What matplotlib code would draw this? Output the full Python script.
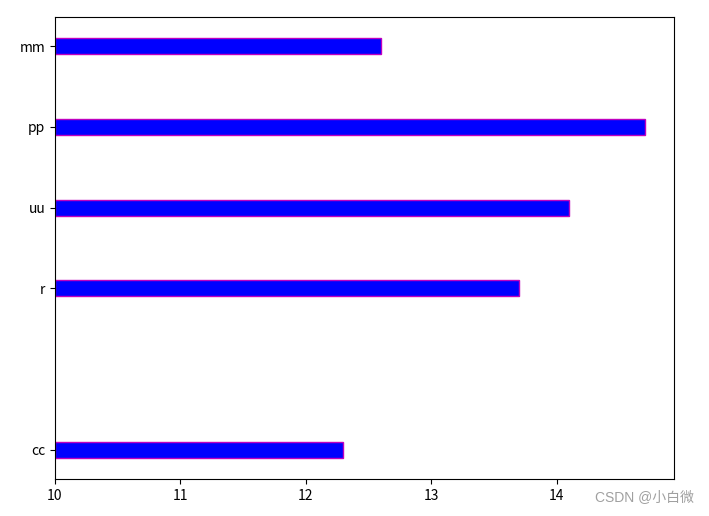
import matplotlib
matplotlib.use("Agg")
import matplotlib.pyplot as plt

plt.rcParams['font.family'] = ['Noto Sans CJK SC', 'DejaVu Sans']

labels = ['cc', 'r', 'uu', 'pp', 'mm']
positions = [0, 2, 3, 4, 5]
values = [12.3, 13.7, 14.1, 14.7, 12.6]
base = 10

fig = plt.figure(figsize=(7.09, 5.16), dpi=100)
ax = fig.add_axes([55 / 709, 1 - 479 / 516, 619 / 709, 462 / 516])

widths = [v - base for v in values]
ax.barh(positions, widths, height=0.2, left=base, color='b', edgecolor='m')
ax.set_yticks(positions)
ax.set_yticklabels(labels)
ax.tick_params(labelsize=10)

# watermark
fig.text(0.978, 0.023, 'CSDN @小白微', color='#a0a0a0', fontsize=10,
         ha='right', va='bottom', family=['Liberation Sans', 'Noto Sans CJK SC'])

fig.savefig('out.png', dpi=100)
